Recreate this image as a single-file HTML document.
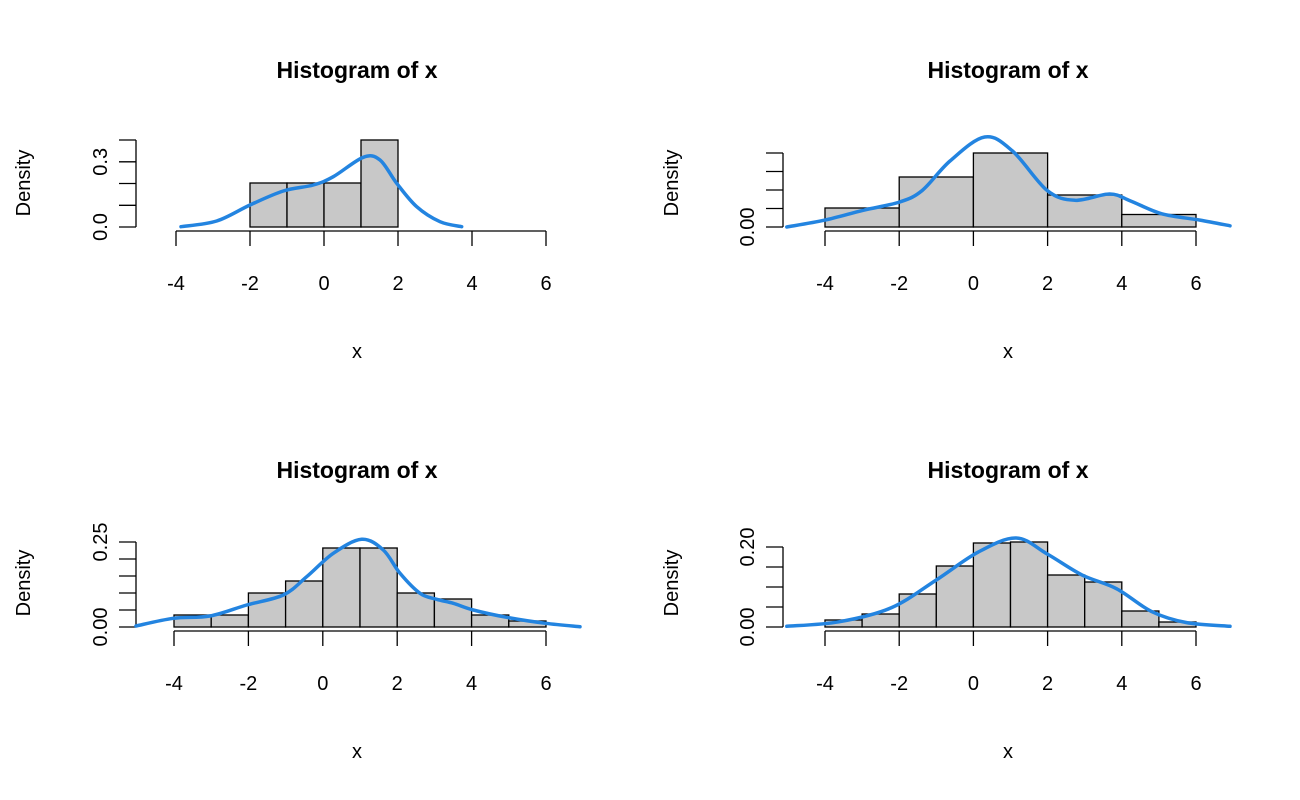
<!DOCTYPE html>
<html><head><meta charset="utf-8"><style>
html,body{margin:0;padding:0;background:#fff;}
svg{display:block;font-family:"Liberation Sans",Arial,sans-serif;}
</style></head><body>
<svg id="s" width="1300" height="800" viewBox="0 0 1300 800"></svg>
<script>
const s=document.getElementById('s');let h='';
function panel(o){
 const {x0,sc,base,cx,title,ty,ylab,bars,bw,ticks,tlabels,curve}=o;
 const st=o.start!==undefined?o.start:-4;
 const X=v=>x0+(v+4)*sc;
 h+=`<text x="${cx}" y="${ty}" font-size="23" font-weight="bold" text-anchor="middle">${title}</text>`;
 bars.forEach((t,i)=>{const a=X(st+i*bw),b=X(st+(i+1)*bw);
  h+=`<rect x="${a}" y="${t}" width="${b-a}" height="${base-t}" fill="#c8c8c8" stroke="#000" stroke-width="1.3"/>`;});
 const ay=base+4;
 h+=`<line x1="${X(-4)}" y1="${ay}" x2="${X(6)}" y2="${ay}" stroke="#000" stroke-width="1.3"/>`;
 for(let v=-4;v<=6;v+=2){h+=`<line x1="${X(v)}" y1="${ay}" x2="${X(v)}" y2="${ay+15}" stroke="#000" stroke-width="1.3"/>`;
  h+=`<text x="${X(v)}" y="${ay+59}" font-size="20" text-anchor="middle">${v}</text>`;}
 h+=`<text x="${cx}" y="${ay+127}" font-size="20" text-anchor="middle">x</text>`;
 const yx=o.yx;
 h+=`<line x1="${yx}" y1="${ticks[0]}" x2="${yx}" y2="${ticks[ticks.length-1]}" stroke="#000" stroke-width="1.3"/>`;
 ticks.forEach(t=>h+=`<line x1="${yx}" y1="${t}" x2="${yx-17}" y2="${t}" stroke="#000" stroke-width="1.3"/>`);
 tlabels.forEach(([t,l])=>h+=`<text transform="translate(${yx-29},${t}) rotate(-90)" font-size="20" text-anchor="middle">${l}</text>`);
 h+=`<text transform="translate(${ylab[0]},${ylab[1]}) rotate(-90)" font-size="20" text-anchor="middle">Density</text>`;
 let p=curve,d=`M${p[0][0]},${p[0][1]}`;
 for(let i=0;i<p.length-1;i++){const a=p[i-1]||p[i],b=p[i],c=p[i+1],e=p[i+2]||c;
  d+=` C${b[0]+(c[0]-a[0])/6},${b[1]+(c[1]-a[1])/6} ${c[0]-(e[0]-b[0])/6},${c[1]-(e[1]-b[1])/6} ${c[0]},${c[1]}`;}
 h+=`<path d="${d}" fill="none" stroke="#2384e0" stroke-width="3.5" stroke-linecap="round"/>`;
}
panel({x0:176,sc:37,base:227,cx:357,title:'Histogram of x',ty:78,ylab:[30,183],bw:1,yx:136,start:-2,
 bars:[183,183,183,140],
 ticks:[227,205.3,183.5,161.8,140],tlabels:[[227,'0.0'],[161.8,'0.3']],
 curve:[[181,226.7],[216.7,221],[250,205],[283.3,191],[313.3,185],[333.3,176.7],[363.3,157.3],[380,160],[396.7,183.3],[416.7,206.7],[440,221.7],[461.7,226.7]]});
panel({x0:825,sc:37.1,base:227,cx:1008,title:'Histogram of x',ty:78,ylab:[678,183],bw:2,yx:783,
 bars:[208,177,153,195,214.5],
 ticks:[227,208.5,190,171.5,153],tlabels:[[227,'0.00']],
 curve:[[786.8,227],[825,220.1],[863.2,210.3],[899.7,202],[922.2,190.5],[950,161],[984.7,137],[1012.5,151],[1047.2,190.5],[1075,200.3],[1109.7,194],[1130.6,201],[1161.8,213.8],[1200,220.1],[1230,225.8]]});
panel({x0:174,sc:37.2,base:627,cx:357,title:'Histogram of x',ty:478,ylab:[30,583],bw:1,yx:136,
 bars:[615,615,593,581,548,548,593,599,615,621],
 ticks:[627,610,593,576,559,542],tlabels:[[627,'0.00'],[542,'0.25']],
 curve:[[136,626],[173.3,618.3],[210,616],[246.7,605],[283.3,595],[306.7,576.7],[333.3,553.3],[361.7,539.3],[383.3,550],[400,573.3],[420,593.3],[436.7,599.3],[453.3,603.3],[473.3,610],[506.7,617.3],[545.7,623.3],[580,626.7]]});
panel({x0:825,sc:37.1,base:627,cx:1008,title:'Histogram of x',ty:478,ylab:[678,583],bw:1,yx:783,
 bars:[620,614,594,566,543,542,575,582,611,622],
 ticks:[627,607,587,567,547],tlabels:[[627,'0.00'],[547,'0.20']],
 curve:[[786.8,626.3],[838.9,621.8],[891,607.9],[936.1,580.1],[977.8,552.3],[1016,538],[1047.2,554],[1081.9,574.9],[1116.7,588.8],[1151.4,611.4],[1186.1,622.5],[1230,626.3]]});
s.innerHTML=h;
</script>
</body></html>
